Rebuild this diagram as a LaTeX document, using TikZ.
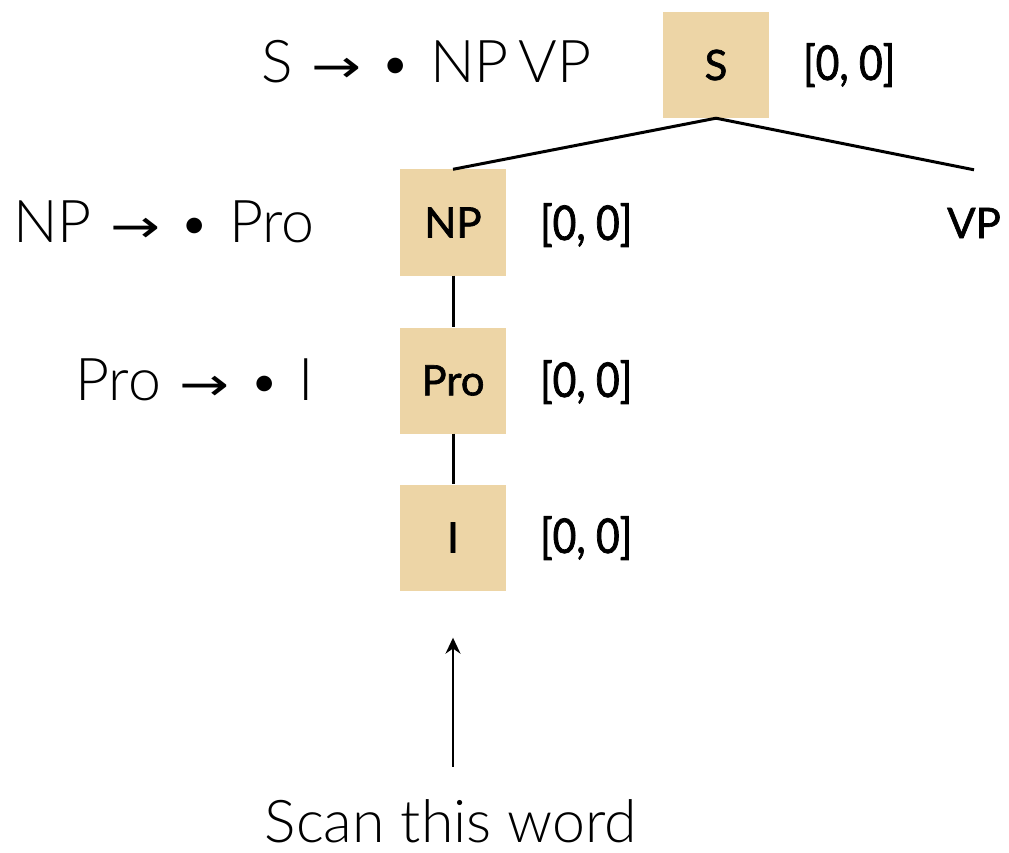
\documentclass[tikz,border=0pt]{standalone}
\usepackage{fontspec}
\usepackage{graphicx}
\setmainfont{Lato}
\IfFontExistsTF{Lato Light}{\newfontfamily\lightfont{Lato Light}}{\newfontfamily\lightfont{Lato}}
\newfontfamily\regfont{Lato}
\newfontfamily\arrowfont{DejaVu Sans}
\newfontfamily\medfont{Lato}[FakeBold=1.5]
\newfontfamily\condfont{Lato}[FakeStretch=0.85,FakeBold=1.5]
\usetikzlibrary{arrows.meta}
\definecolor{boxtan}{RGB}{237,213,166}
\newcommand{\rarr}{\scalebox{1.3}[1]{\arrowfont\fontsize{46}{46}\selectfont →}}
\newcommand{\bul}{\raisebox{4pt}{\regfont\fontsize{42}{42}\selectfont •}}
\newcommand{\rulebody}[2]{#1\hspace{19pt}\rarr\hspace{22pt}\bul\hspace{22pt}#2}
\begin{document}
\begin{tikzpicture}[x=1pt,y=-1pt,
  treebox/.style={fill=boxtan, minimum width=106pt, minimum height=106pt, inner sep=0pt, font=\medfont\fontsize{42}{42}\selectfont},
  plainnode/.style={minimum height=106pt, inner sep=0pt, font=\medfont\fontsize{42}{42}\selectfont},
  spanlabel/.style={anchor=base west, inner sep=0pt, font=\condfont\fontsize{48}{48}\selectfont},
  rulelabel/.style={inner sep=0pt, font=\lightfont\fontsize{59}{59}\selectfont},
  scanlabel/.style={inner sep=0pt, font=\lightfont\fontsize{59}{59}\selectfont},
  treeedge/.style={line width=3pt},
  scanarrow/.style={line width=2pt, -{Stealth[length=16pt,width=15pt]}},
]
\useasboundingbox (0,0) rectangle (1009,853);

\node[treebox] (S) at (716,65) {S};
\node[treebox] (NP) at (453,222.5) {NP};
\node[treebox] (Pro) at (453,380.5) {Pro};
\node[treebox] (I) at (453,537.5) {I};
\node[plainnode] (VP) at (974,223) {VP};

\node[spanlabel] (Sspan) at (803,80) {[0, 0]};
\node[spanlabel] (NPspan) at (540,240) {[0, 0]};
\node[spanlabel] (Prospan) at (540,397) {[0, 0]};
\node[spanlabel] (Ispan) at (540,553) {[0, 0]};

\node[rulelabel, anchor=base west] (Srule) at (261,83) {\rulebody{S}{NP\,VP}};
\node[rulelabel, anchor=base east] (NPrule) at (315,242) {\rulebody{NP}{Pro}};
\node[rulelabel, anchor=base east] (Prorule) at (314,400) {\rulebody{Pro}{I}};

\node[scanlabel, anchor=base] (scan) at (451,842) {Scan this word};

\draw[treeedge] (S.south) -- (NP.north);
\draw[treeedge] (S.south) -- (VP.north);
\draw[treeedge] (NP) -- (Pro);
\draw[treeedge] (Pro) -- (I);
\draw[scanarrow, shorten <=32pt, shorten >=47pt] (scan.north -| I.south) -- (I.south);
\end{tikzpicture}
\end{document}
